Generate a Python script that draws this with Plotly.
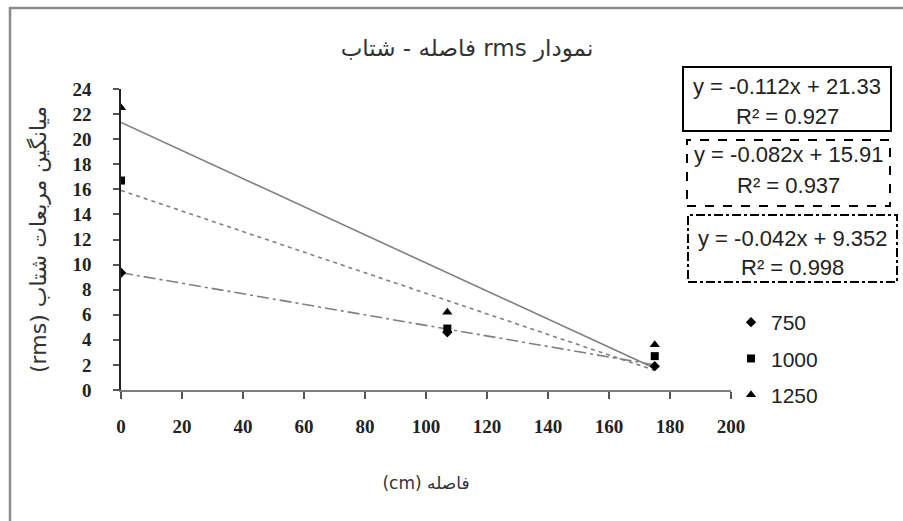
import plotly.graph_objects as go

# ---- data ----
distance = [0, 107, 175]
rms_750 = [9.35, 4.6, 1.9]
rms_1000 = [16.7, 4.9, 2.7]
rms_1250 = [22.5, 6.2, 3.6]
series_names = ["750", "1000", "1250"]

# trend lines as printed on the chart (slope, intercept, R^2)
trend_750 = (-0.042, 9.352, 0.998)
trend_1000 = (-0.082, 15.91, 0.937)
trend_1250 = (-0.112, 21.33, 0.927)
trend_x = [0, 175]

x_ticks = list(range(0, 201, 20))
y_ticks = list(range(0, 25, 2))

# words ordered so the right-to-left layout shows them as in the reference
title_text = "فاصله - شتاب rms نمودار"
x_title = "\u202bفاصله (cm)\u202c"
y_title = "\u202bمیانگین مربعات شتاب (rms)\u202c"

# ---- layout geometry (pixels) ----
W, H = 903, 521
L, R, T, B = 121, 172, 89, 131
PW, PH = W - L - R, H - T - B


def px(xp):
    return (xp - L) / PW


def py(yp):
    return (H - B - yp) / PH


GREY = "#7f7f7f"
fig = go.Figure()

trend_styles = [
    (trend_1250, "solid"),
    (trend_1000, "4px,4px"),
    (trend_750, "12px,4px,3px,4px"),
]
for (m, c, r2), dash in trend_styles:
    fig.add_trace(go.Scatter(
        x=trend_x, y=[m * v + c for v in trend_x], mode="lines",
        line=dict(color=GREY, width=1.6, dash=dash),
        showlegend=False, hoverinfo="skip"))

for name, ys, sym, size in [("750", rms_750, "diamond", 8),
                            ("1000", rms_1000, "square", 8),
                            ("1250", rms_1250, "triangle-up", 9)]:
    fig.add_trace(go.Scatter(
        x=distance, y=ys, mode="markers", name=name, legendgroup=name,
        marker=dict(symbol=sym, size=size, color="black")))

fig.update_layout(
    width=W, height=H,
    margin=dict(l=L, r=R, t=T, b=B),
    paper_bgcolor="white", plot_bgcolor="white",
    title=dict(text=title_text, x=px(467), xref="paper", xanchor="center",
               y=1 - 48 / H, yanchor="middle",
               font=dict(family="DejaVu Sans", size=23, color="#333")),
    legend=dict(x=px(731), y=py(302), xanchor="left", yanchor="top",
                font=dict(family="Liberation Sans", size=21, color="#222"),
                tracegroupgap=6, bgcolor="rgba(0,0,0,0)", itemwidth=30),
    showlegend=True,
)

fig.update_xaxes(
    range=[0, 200], tickvals=x_ticks, ticktext=[str(v) for v in x_ticks],
    showgrid=False, zeroline=False, showline=True, linecolor=GREY, linewidth=2,
    ticks="outside", ticklen=7, tickcolor="#555", tickwidth=1.5,
    ticklabelstandoff=11,
    tickfont=dict(family="Liberation Serif", size=19, color="#222", weight="bold"),
    title=dict(text=x_title, standoff=41,
               font=dict(family="DejaVu Sans", size=17, color="#333")),
)
fig.update_yaxes(
    range=[0, 24], tickvals=y_ticks, ticktext=[str(v) for v in y_ticks],
    showgrid=False, zeroline=False, showline=True, linecolor="#222", linewidth=1.5,
    ticks="outside", ticklen=6, tickcolor="#555", tickwidth=1.5,
    ticklabelstandoff=18,
    tickfont=dict(family="Liberation Serif", size=19, color="#222", weight="bold"),
    title=dict(text=y_title, standoff=20,
               font=dict(family="DejaVu Sans", size=22, color="#333")),
)

# outer chart frame (extends past right/bottom like the cropped reference)
fig.add_shape(type="rect", xref="paper", yref="paper",
              x0=px(10), x1=px(W + 20), y0=py(H + 20), y1=py(8),
              line=dict(color="#8c8c8c", width=2.5), layer="below")

# equation boxes
boxes = [
    (trend_1250, (683, 891, 67, 131), "solid", (87, 116)),
    (trend_1000, (687, 890, 140, 206), "dash", (154, 185)),
    (trend_750, (688, 897, 215, 282), "dashdot", (238, 267)),
]
for (m, c, r2), (x0, x1, y0, y1), dash, (l1, l2) in boxes:
    fig.add_shape(type="rect", xref="paper", yref="paper",
                  x0=px(x0), x1=px(x1), y0=py(y1), y1=py(y0),
                  line=dict(color="black", width=2, dash=dash),
                  fillcolor="white")
    cx = px((x0 + x1) / 2)
    sign = "-" if m < 0 else ""
    eq = f"y = {sign}{abs(m):g}x + {c:g}"
    fig.add_annotation(text=eq, x=cx, y=py(l1), xref="paper", yref="paper",
                       showarrow=False, xanchor="center", yanchor="middle",
                       font=dict(family="Liberation Sans", size=22, color="#222"))
    fig.add_annotation(text=f"R² = {r2:g}", x=cx, y=py(l2), xref="paper", yref="paper",
                       showarrow=False, xanchor="center", yanchor="middle",
                       font=dict(family="Liberation Sans", size=22, color="#222"))

fig.write_html("out.html", config={"displayModeBar": False},
               post_script="document.body.style.margin='0px';")
